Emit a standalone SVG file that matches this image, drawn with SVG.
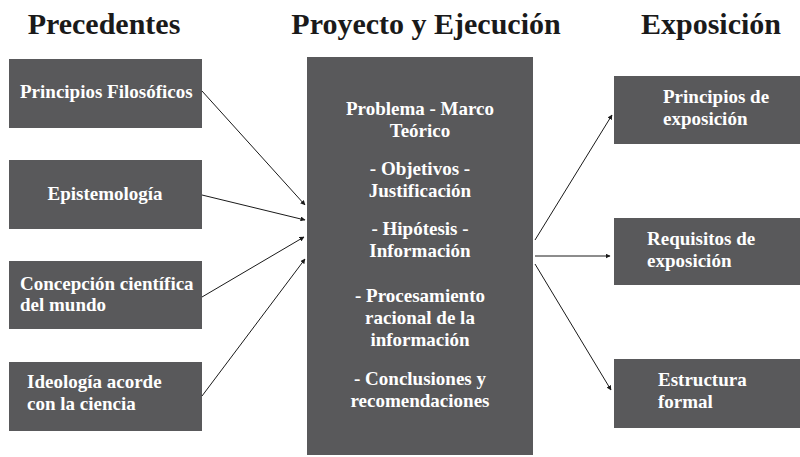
<svg xmlns="http://www.w3.org/2000/svg" width="800" height="457" viewBox="0 0 800 457">
<defs>
<marker id="ah" viewBox="0 0 10 10" refX="9" refY="5" markerWidth="5" markerHeight="5" orient="auto" markerUnits="userSpaceOnUse"><path d="M0,0 L10,5 L0,10 z" fill="#1a1a1a"/></marker>
<style>
.box{fill:#59595b}
.t{font-family:"Liberation Serif","Times New Roman",serif;font-weight:bold;font-size:19px;fill:#ffffff}
.h{font-family:"Liberation Serif","Times New Roman",serif;font-weight:bold;font-size:30px;fill:#1a1a1a;text-anchor:middle}
.c{text-anchor:middle}
.ln{stroke:#1a1a1a;stroke-width:1;fill:none;marker-end:url(#ah)}
</style>
</defs>
<rect width="800" height="457" fill="#ffffff"/>
<g id="headers">
<text class="h" x="104" y="34">Precedentes</text>
<text class="h" x="426" y="34">Proyecto y Ejecución</text>
<text class="h" x="711" y="34">Exposición</text>
</g>
<g id="n1"><rect class="box" x="9" y="59" width="193" height="69"/><text class="t" x="20" y="98">Principios Filosóficos</text></g>
<g id="n2"><rect class="box" x="9" y="160" width="193" height="69"/><text class="t c" x="105" y="200">Epistemología</text></g>
<g id="n3"><rect class="box" x="9" y="261" width="193" height="68"/><text class="t" x="20" y="290">Concepción científica</text><text class="t" x="20" y="311">del mundo</text></g>
<g id="n4"><rect class="box" x="9" y="362" width="193" height="69"/><text class="t" x="27" y="388">Ideología acorde</text><text class="t" x="27" y="410">con la ciencia</text></g>
<g id="center"><rect class="box" x="307" y="57" width="226" height="398"/>
<text class="t c" x="420" y="115">Problema - Marco</text>
<text class="t c" x="420" y="137">Teórico</text>
<text class="t c" x="420" y="175">- Objetivos -</text>
<text class="t c" x="420" y="197">Justificación</text>
<text class="t c" x="420" y="235">- Hipótesis -</text>
<text class="t c" x="420" y="257">Información</text>
<text class="t c" x="420" y="302">- Procesamiento</text>
<text class="t c" x="420" y="324">racional de la</text>
<text class="t c" x="420" y="346">información</text>
<text class="t c" x="420" y="385">- Conclusiones y</text>
<text class="t c" x="420" y="407">recomendaciones</text>
</g>
<g id="r1"><rect class="box" x="614" y="76" width="186" height="68"/><text class="t" x="663" y="103">Principios de</text><text class="t" x="663" y="125">exposición</text></g>
<g id="r2"><rect class="box" x="614" y="218" width="186" height="67"/><text class="t" x="647" y="245">Requisitos de</text><text class="t" x="647" y="267">exposición</text></g>
<g id="r3"><rect class="box" x="614" y="359" width="186" height="69"/><text class="t" x="658" y="386">Estructura</text><text class="t" x="658" y="408">formal</text></g>
<g id="connectors">
<line class="ln" x1="202" y1="91" x2="305" y2="205"/>
<line class="ln" x1="202" y1="195" x2="305" y2="220"/>
<line class="ln" x1="202" y1="297" x2="304" y2="237"/>
<line class="ln" x1="202" y1="396" x2="305" y2="259"/>
<line class="ln" x1="535" y1="240" x2="612" y2="115"/>
<line class="ln" x1="535" y1="256" x2="610" y2="256"/>
<line class="ln" x1="535" y1="264" x2="611" y2="390"/>
</g>
</svg>
